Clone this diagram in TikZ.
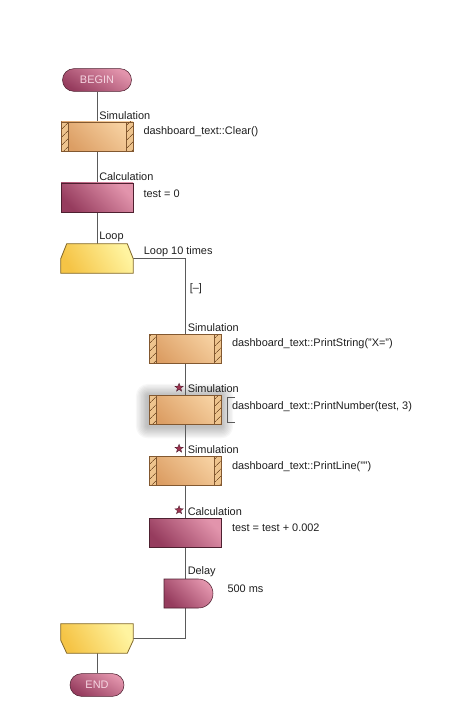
\documentclass[tikz,border=0pt]{standalone}
\usepackage{fontspec}
\setmainfont{Liberation Sans}
\usetikzlibrary{positioning,shapes.geometric,shapes.misc,patterns.meta,backgrounds}
\definecolor{flowline}{RGB}{90,90,90}
\definecolor{lbltext}{RGB}{30,30,30}
\definecolor{simlight}{RGB}{246,208,160}
\definecolor{simdark}{RGB}{220,158,100}
\definecolor{simhatch}{RGB}{238,196,142}
\definecolor{simline}{RGB}{130,88,48}
\definecolor{calclight}{RGB}{226,148,172}
\definecolor{calcdark}{RGB}{150,60,94}
\definecolor{calcline}{RGB}{78,32,48}
\definecolor{looplight}{RGB}{255,244,160}
\definecolor{loopdark}{RGB}{245,196,70}
\definecolor{loopline}{RGB}{130,105,45}
\definecolor{pilltext}{RGB}{246,214,226}
\definecolor{starfill}{RGB}{160,50,80}
\newcommand{\lblfont}{\fontsize{8.2}{9.8}\selectfont}

\begin{document}
\begin{tikzpicture}[x=0.75pt,y=-0.75pt,
  flow/.style={draw=flowline,line width=0.75pt},
  lbl/.style={font=\lblfont,text=lbltext,inner sep=0.75pt},
  pill/.style={rounded rectangle,minimum height=17pt,inner sep=0,draw=calcline,
    bottom color=calcdark,top color=calclight,shading angle=-30,
    font=\lblfont,text=pilltext},
  simbox/.style={rectangle,minimum width=54pt,minimum height=21.75pt,inner sep=0,
    draw=simline,bottom color=simdark,top color=simlight,shading angle=-45,
    path picture={
      \fill[simhatch] (path picture bounding box.south west) rectangle ([xshift=5.25pt]path picture bounding box.north west);
      \fill[simhatch] (path picture bounding box.south east) rectangle ([xshift=-5.25pt]path picture bounding box.north east);
      \fill[pattern={Lines[angle=45,distance=4pt,line width=0.5pt]},pattern color=simline]
        (path picture bounding box.south west) rectangle ([xshift=5.25pt]path picture bounding box.north west);
      \fill[pattern={Lines[angle=45,distance=4pt,line width=0.5pt]},pattern color=simline]
        (path picture bounding box.south east) rectangle ([xshift=-5.25pt]path picture bounding box.north east);
      \draw[simline,line width=0.6pt] ([xshift=5.25pt]path picture bounding box.south west) -- ([xshift=5.25pt]path picture bounding box.north west);
      \draw[simline,line width=0.6pt] ([xshift=-5.25pt]path picture bounding box.south east) -- ([xshift=-5.25pt]path picture bounding box.north east);
    }},
  calcbox/.style={rectangle,minimum width=54pt,minimum height=21.75pt,inner sep=0,
    draw=calcline,bottom color=calcdark,top color=calclight,shading angle=-45},
  loopframe/.style={rectangle,minimum width=54pt,minimum height=21.75pt,inner sep=0},
  loopbox/.style={draw=loopline,line width=0.6pt,bottom color=loopdark,top color=looplight,shading angle=-60},
  delaybox/.style={rounded rectangle,rounded rectangle left arc=none,minimum width=36.75pt,
    minimum height=21.75pt,inner sep=0,draw=calcline,bottom color=calcdark,top color=calclight,shading angle=-45},
  starmark/.style={star,star points=5,star point ratio=2.4,minimum size=6.5pt,inner sep=0,
    fill=starfill,draw=calcline,line width=0.3pt},
]
  \useasboundingbox (0,0) rectangle (470,720);

  % --- outer column: begin, simulation, calculation, loop head
  \node[pill,minimum width=51.75pt] (start) at (97,80) {BEGIN};
  \node[simbox] (sim1) at (97,136.5) {};
  \node[calcbox] (calc1) at (97,197.5) {};
  \node[loopframe] (loopstart) at (97,258.5) {};
  \path[loopbox] ([xshift=4.5pt]loopstart.north west) -- ([xshift=-4.5pt]loopstart.north east)
    -- ([yshift=-11.25pt]loopstart.north east) -- (loopstart.south east)
    -- (loopstart.south west) -- ([yshift=-11.25pt]loopstart.north west) -- cycle;

  % --- loop body (inner column)
  \node[simbox] (sim2) at (185.5,348.5) {};
  \node[simbox] (sim3) at (185.5,410) {};
  \node[simbox] (sim4) at (185.5,471) {};
  \node[calcbox] (calc2) at (185.5,532.5) {};
  \node[delaybox] (delay) at (188.5,593.5) {};

  % --- loop tail and end
  \node[loopframe] (loopend) at (97,638.5) {};
  \path[loopbox] (loopend.north west) -- (loopend.north east)
    -- ([yshift=9.75pt]loopend.south east) -- ([xshift=-4.5pt]loopend.south east)
    -- ([xshift=4.5pt]loopend.south west) -- ([yshift=9.75pt]loopend.south west) -- cycle;
  \node[pill,minimum width=40.5pt] (stop) at (97,685) {END};

  % block titles (above, right of the flow line)
  \node[lbl,anchor=south west] (lsim1) at ([xshift=0.75pt,yshift=0.75pt]sim1.north) {Simulation};
  \node[lbl,anchor=south west] (lcalc1) at ([xshift=0.75pt,yshift=0.75pt]calc1.north) {Calculation};
  \node[lbl,anchor=south west] (lloop) at ([xshift=0.75pt,yshift=0.75pt]loopstart.north) {Loop};
  \node[lbl,anchor=south west] (lsim2) at ([xshift=0.75pt,yshift=0.75pt]sim2.north) {Simulation};
  \node[lbl,anchor=south west] (lsim3) at ([xshift=0.75pt,yshift=0.75pt]sim3.north) {Simulation};
  \node[lbl,anchor=south west] (lsim4) at ([xshift=0.75pt,yshift=0.75pt]sim4.north) {Simulation};
  \node[lbl,anchor=south west] (lcalc2) at ([xshift=0.75pt,yshift=0.75pt]calc2.north) {Calculation};
  \node[lbl,anchor=south west] (ldelay) at ([xshift=0.75pt,yshift=0.75pt]calc2.south |- delay.north) {Delay};

  % breakpoint stars
  \node[starmark,left=3.5pt of lsim3,yshift=1pt] (star3) {};
  \node[starmark,left=3.5pt of lsim4,yshift=1pt] (star4) {};
  \node[starmark,left=3.5pt of lcalc2,yshift=1pt] (star5) {};

  % block contents (right of the boxes)
  \node[lbl,anchor=west] (tsim1) at ([xshift=6.75pt,yshift=3.5pt]sim1.east) {dashboard\_text::Clear()};
  \node[lbl,anchor=west] (tcalc1) at ([xshift=6.75pt,yshift=3pt]calc1.east) {test = 0};
  \node[lbl,anchor=south west] (tloop) at ([xshift=7pt]loopstart.east) {Loop 10 times};
  \node[lbl,anchor=west] (fold) at (188.5,289) {[\textendash]};
  \node[lbl,anchor=west] (tsim2) at ([xshift=6.75pt,yshift=3.5pt]sim2.east) {dashboard\_text::PrintString("X=")};
  \node[lbl,anchor=west] (tsim3) at ([xshift=6.75pt,yshift=2.5pt]sim3.east) {dashboard\_text::PrintNumber(test, 3)};
  \node[lbl,anchor=west] (tsim4) at ([xshift=6.75pt,yshift=3.5pt]sim4.east) {dashboard\_text::PrintLine("")};
  \node[lbl,anchor=west] (tcalc2) at ([xshift=6.75pt,yshift=3.5pt]calc2.east) {test = test + 0.002};
  \node[lbl,anchor=west] (tdelay) at ([xshift=9.75pt,yshift=3.75pt]delay.east) {500 ms};

  % selection bracket of the highlighted block
  \draw[flow,line width=0.6pt] ([xshift=9.75pt,yshift=-1.5pt]sim3.north east)
    -| ([xshift=4.5pt,yshift=2pt]sim3.south east) -- ++(5.25pt,0);

  \begin{scope}[on background layer]
    % soft highlight round the selected block
    \foreach \r in {1,...,9}
      \fill[black,opacity=0.03,rounded corners=\r pt]
        ([shift={({-\r*1pt-1pt},{-\r*1pt-1.2pt})}]sim3.south west)
        rectangle ([shift={({\r*1pt-0.5pt},{\r*1pt-0.5pt})}]sim3.north east);
    % flow lines
    \foreach \a/\b in {start/sim1,sim1/calc1,calc1/loopstart,sim2/sim3,sim3/sim4,sim4/calc2,loopend/stop}
      \draw[flow] (\a.south) -- (\b.north);
    \draw[flow] (loopstart.east) -| (sim2.north);
    \draw[flow] (calc2.south) -- (calc2.south |- delay.north);
    \draw[flow] (calc2.south |- delay.south) |- (loopend.east);
  \end{scope}
\end{tikzpicture}
\end{document}
